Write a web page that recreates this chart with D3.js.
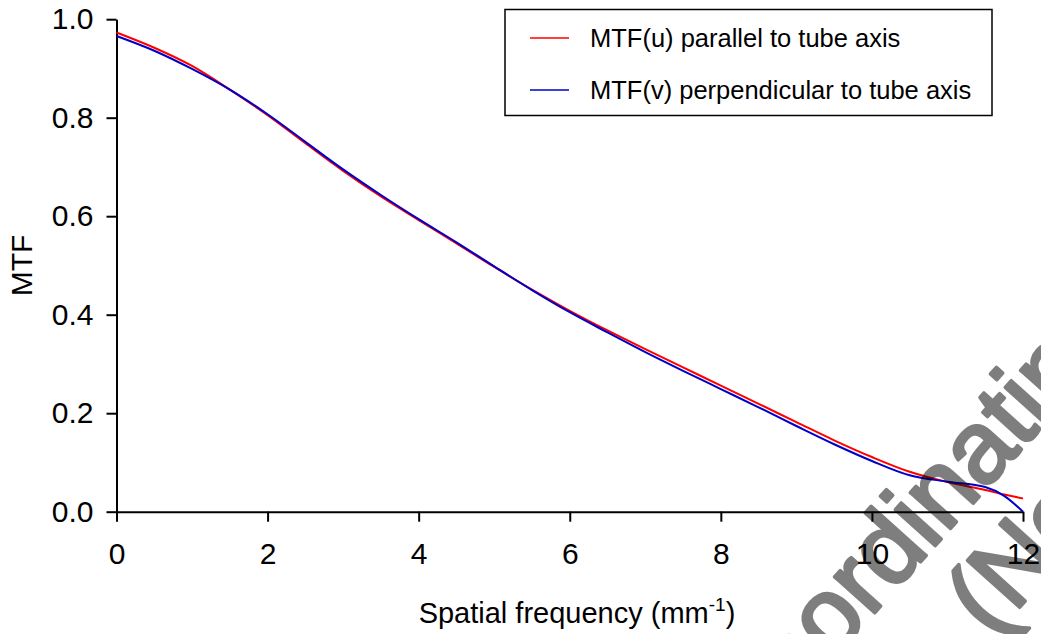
<!DOCTYPE html>
<html>
<head>
<meta charset="utf-8">
<script src="https://cdn.jsdelivr.net/npm/d3@7"></script>
<style>
  html, body { margin: 0; padding: 0; background: #ffffff; }
  svg { display: block; }
  text { font-family: "Liberation Sans", Arial, Helvetica, sans-serif; }
</style>
</head>
<body>
<svg id="chart" width="1041" height="634"></svg>
<script>
// ---- data ----
const freq = [0, 0.5, 1, 1.5, 2, 2.5, 3, 3.5, 4, 4.5, 5, 5.5, 6, 6.5, 7, 7.5, 8, 8.5, 9, 9.5, 10, 10.5, 11, 11.5, 11.75, 12];
const mtfU = [0.973, 0.942, 0.905, 0.857, 0.805, 0.748, 0.692, 0.640, 0.592, 0.545, 0.497, 0.451, 0.408, 0.368, 0.330, 0.293, 0.256, 0.219, 0.182, 0.145, 0.111, 0.081, 0.060, 0.044, 0.035, 0.027];
const mtfV = [0.966, 0.936, 0.899, 0.857, 0.807, 0.751, 0.695, 0.643, 0.594, 0.547, 0.498, 0.450, 0.405, 0.364, 0.324, 0.286, 0.249, 0.212, 0.174, 0.137, 0.103, 0.074, 0.061, 0.050, 0.032, 0.0];
const seriesNames = ["MTF(u) parallel to tube axis", "MTF(v) perpendicular to tube axis"];
const seriesColors = ["#ff0000", "#0000c8"];
const xTicks = [0, 2, 4, 6, 8, 10, 12];
const yTicks = [0.0, 0.2, 0.4, 0.6, 0.8, 1.0];
const xTitle = "Spatial frequency (mm";
const xTitleSup = "-1";
const yTitle = "MTF";
const watermark = ["Coordinating", "(Not"];

// ---- layout ----
const svg = d3.select("#chart");
const margin = { left: 116.5, right: 18, top: 19.2, bottom: 122.3 };
const W = 1041, H = 634;

const x = d3.scaleLinear().domain([0, 12]).range([margin.left, W - margin.right]);
const y = d3.scaleLinear().domain([0, 1]).range([H - margin.bottom, margin.top]);

// axes
const xAxis = d3.axisBottom(x).tickValues(xTicks).tickFormat(d3.format("d"))
  .tickSizeInner(10).tickSizeOuter(0).tickPadding(21);
const yAxis = d3.axisLeft(y).tickValues(yTicks).tickFormat(d3.format(".1f"))
  .tickSizeInner(10).tickSizeOuter(0).tickPadding(13);

const gx = svg.append("g").attr("transform", `translate(0,${y(0)})`).call(xAxis);
const gy = svg.append("g").attr("transform", `translate(${x(0)},0)`).call(yAxis);
[gx, gy].forEach(g => {
  g.select(".domain").attr("stroke", "#000").attr("stroke-width", 2);
  g.selectAll(".tick line").attr("stroke", "#000").attr("stroke-width", 2);
  g.selectAll(".tick text").attr("fill", "#000").style("font-size", "30px")
    .style("font-family", "'Liberation Sans', Arial, sans-serif");
});

// lines
const lineGen = d3.line().x(d => x(d[0])).y(d => y(d[1])).curve(d3.curveMonotoneX);
[mtfU, mtfV].forEach((vals, i) => {
  svg.append("path")
    .datum(freq.map((f, j) => [f, vals[j]]))
    .attr("fill", "none")
    .attr("stroke", seriesColors[i])
    .attr("stroke-width", 2)
    .attr("d", lineGen);
});

// axis titles
const xt = svg.append("text")
  .attr("x", 577).attr("y", 623)
  .attr("text-anchor", "middle")
  .style("font-size", "29px").attr("fill", "#000");
xt.append("tspan").text(xTitle);
xt.append("tspan").text(xTitleSup).attr("dy", -12).style("font-size", "19px");
xt.append("tspan").text(")").attr("dy", 12);

svg.append("text")
  .attr("transform", `translate(32,${(y(0) + y(1)) / 2}) rotate(-90)`)
  .attr("text-anchor", "middle")
  .style("font-size", "30px").attr("fill", "#000")
  .text(yTitle);

// legend
const lg = svg.append("g");
lg.append("rect").attr("x", 505).attr("y", 9.5).attr("width", 487).attr("height", 106)
  .attr("fill", "#fff").attr("stroke", "#000").attr("stroke-width", 1.5);
seriesNames.forEach((name, i) => {
  const ly = 38 + i * 52;
  lg.append("line").attr("x1", 530).attr("x2", 569).attr("y1", ly).attr("y2", ly)
    .attr("stroke", seriesColors[i]).attr("stroke-width", 1.5);
  lg.append("text").attr("x", 590).attr("y", ly).attr("dy", "0.35em")
    .style("font-size", "25.5px").attr("fill", "#000").text(name);
});

// watermark (semi-transparent, drawn over the plot)
const wm = svg.append("g").attr("opacity", 0.5)
  .attr("transform", "translate(744.8,757.1) rotate(-48)");
wm.append("text").attr("x", 0).attr("y", 0)
  .style("font-size", "102px")
  .attr("fill", "#000").attr("stroke", "#000").attr("stroke-width", 3.5)
  .attr("stroke-linejoin", "round").text(watermark[0]);
wm.append("text").attr("x", 253).attr("y", 104)
  .style("font-size", "102px")
  .attr("fill", "#000").attr("stroke", "#000").attr("stroke-width", 3.5)
  .attr("stroke-linejoin", "round").text(watermark[1]);
</script>
</body>
</html>
